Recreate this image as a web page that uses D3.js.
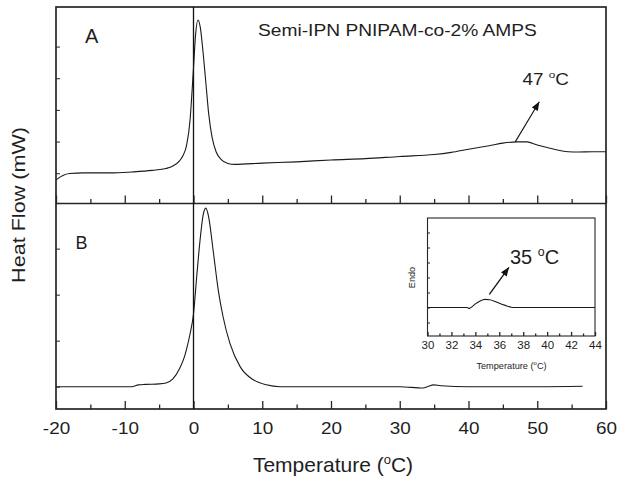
<!DOCTYPE html>
<html>
<head>
<meta charset="utf-8">
<script src="https://cdn.jsdelivr.net/npm/d3@7"></script>
<style>
body{margin:0;background:#fff;}
text{font-family:"Liberation Sans",Arial,Helvetica,sans-serif;fill:#1e1e1e;}
</style>
</head>
<body>
<svg id="chart" width="617" height="478"></svg>
<script>
// curve A (upper panel): temperature in °C, heat flow in arbitrary units
var tempA = [-20,-19,-18,-16,-12,-9,-6,-4,-3,-2,-1.5,-1,-0.5,-0.2,0,0.3,0.65,1.0,1.4,1.8,2.2,2.7,3.3,4,5,6,10,15,20,25,30,35,37.5,40,43,45,47,48.5,50,52,54.5,56,58,60];
var flowA = [-0.21,-0.07,-0.01,0.01,0.01,0.04,0.09,0.15,0.23,0.40,0.57,0.89,1.68,2.63,3.32,4.37,4.84,4.59,3.80,2.85,1.90,1.14,0.67,0.44,0.31,0.28,0.32,0.36,0.42,0.46,0.53,0.59,0.66,0.76,0.87,0.95,0.99,0.99,0.89,0.78,0.68,0.67,0.68,0.68];

// curve B (lower panel)
var tempB = [-20,-9,-8,-7,-5,-4,-3,-2,-1.3,-1,-0.5,0,0.5,1.0,1.4,1.8,2.2,2.9,3.6,4.3,5.3,6.8,8.7,10.6,12.6,20,30,33.4,34.2,34.9,36,40,50,56.6];
var flowB = [0,0,0.04,0.05,0.06,0.08,0.17,0.40,0.66,0.82,1.15,1.58,2.45,3.25,3.73,3.88,3.69,2.91,2.10,1.52,0.94,0.43,0.15,0.04,0,0,0,-0.03,0.01,0.04,0.02,0,0,0.01];

// inset, zoom on 30-44 °C
var tempInset = [30,33.3,33.5,33.7,34,34.4,34.8,35.2,35.6,36,36.5,37,37.2,44];
var flowInset = [0,0,-0.03,0.02,0.12,0.22,0.27,0.26,0.21,0.14,0.07,0.01,0,0];

var mainTicks = [-20,-10,0,10,20,30,40,50,60];
var mainMinor = [-15,-5,5,15,25,35,45,55];
var insetTicks = [30,32,34,36,38,40,42,44];
var insetMinor = [31,33,35,37,39,41,43];
var leftTicksA = [0,1,2,3,4];
var leftTicksB = [0,1,2,3];
var leftTicksInset = [-0.5,0,0.5,1,1.5,2,2.5];

// annotations (data units)
var arrowAFrom = [46.8,0.99], arrowATo = [50.3,2.26];
var arrowIFrom = [35.17,0.44], arrowITo = [36.81,1.34];

var svg = d3.select("#chart");
var ink = "#262626";

var x = d3.scaleLinear().domain([-20,60]).range([56,606]);
var yA = d3.scaleLinear().domain([-0.94,5.25]).range([203,7]);
var yB = d3.scaleLinear().domain([-0.485,3.97]).range([409,204]);
var xi = d3.scaleLinear().domain([30,44]).range([427.5,595]);
var yi = d3.scaleLinear().domain([-0.95,2.983]).range([336,218]);

var defs = svg.append("defs");
defs.append("marker").attr("id","head").attr("markerUnits","userSpaceOnUse")
	.attr("viewBox","0 0 10 8").attr("refX",10).attr("refY",4)
	.attr("markerWidth",10).attr("markerHeight",7).attr("orient","auto")
	.append("path").attr("d","M0,0L10,4L0,8Z").attr("fill","#111");

function ticksBottom(g, scale, major, minor, y, bigLen, smallLen, withLabels){
	var a = d3.axisBottom(scale).tickValues(major).tickSize(-bigLen).tickSizeOuter(0)
		.tickFormat(withLabels ? function(d){ return String(d); } : "");
	var ax = g.append("g").attr("transform","translate(0,"+y+")").attr("color",ink).call(a);
	ax.select(".domain").remove();
	ax.selectAll("line").attr("stroke-width",1.3);
	var b = d3.axisBottom(scale).tickValues(minor).tickSize(-smallLen).tickFormat("");
	var bx = g.append("g").attr("transform","translate(0,"+y+")").attr("color",ink).call(b);
	bx.select(".domain").remove();
	bx.selectAll("line").attr("stroke-width",1.3);
	return ax;
}

function ticksLeft(g, scale, vals, x0, len){
	var a = d3.axisLeft(scale).tickValues(vals).tickSize(-len).tickFormat("");
	var ax = g.append("g").attr("transform","translate("+x0+",0)").attr("color",ink).call(a);
	ax.select(".domain").remove();
	ax.selectAll("line").attr("stroke-width",1);
}

// text with raised small "o" for degree
function degText(g, px, py, num, size, sx, unit){
	var t = g.append("text").attr("transform","translate("+px+","+py+") scale("+sx+",1)")
		.style("font-size",size+"px");
	t.append("tspan").text(num+" ");
	t.append("tspan").attr("dy",-size*0.42).style("font-size",(size*0.62)+"px").text("o");
	t.append("tspan").attr("dy",size*0.42).text(unit);
	return t;
}

var main = svg.append("g");

// bottom axis with labels
var bottomAxis = ticksBottom(main, x, mainTicks, mainMinor, 409, 8, 4.5, true);
bottomAxis.selectAll("text").attr("y",0).attr("dy",0)
	.attr("transform","translate(0,25) scale(1.18,1)")
	.style("font-size","16px").attr("fill","#1e1e1e");
// ticks at the bottom of the upper panel
ticksBottom(main, x, mainTicks, mainMinor, 203.5, 8, 4.5, false);
ticksLeft(main, yA, leftTicksA, 56, 4);
ticksLeft(main, yB, leftTicksB, 56, 4);

var line = d3.line().curve(d3.curveMonotoneX);

main.append("path")
	.attr("d", line(tempA.map(function(t,i){ return [x(t), yA(flowA[i])]; })))
	.attr("fill","none").attr("stroke","#1a1a1a").attr("stroke-width",1.1);
main.append("path")
	.attr("d", line(tempB.map(function(t,i){ return [x(t), yB(flowB[i])]; })))
	.attr("fill","none").attr("stroke","#1a1a1a").attr("stroke-width",1.1);

// frame, divider and zero line
main.append("rect").attr("x",56).attr("y",7).attr("width",550).attr("height",402)
	.attr("fill","none").attr("stroke",ink).attr("stroke-width",1.7);
main.append("line").attr("x1",56).attr("x2",606).attr("y1",203.5).attr("y2",203.5)
	.attr("stroke",ink).attr("stroke-width",1.5);
main.append("line").attr("x1",x(0)).attr("x2",x(0)).attr("y1",7).attr("y2",409)
	.attr("stroke","#111").attr("stroke-width",1.3);

// arrow for curve A
main.append("line")
	.attr("x1",x(arrowAFrom[0])).attr("y1",yA(arrowAFrom[1]))
	.attr("x2",x(arrowATo[0])).attr("y2",yA(arrowATo[1]))
	.attr("stroke","#111").attr("stroke-width",1.1).attr("marker-end","url(#head)");
degText(main, 522.5, 85, "47", 16, 1.18, "C");

main.append("text").attr("x",85).attr("y",42.5).style("font-size","20px").text("A");
main.append("text").attr("x",75.5).attr("y",249).style("font-size","18px").text("B");
main.append("text").attr("transform","translate(258,36) scale(1.2,1)")
	.style("font-size","16px").text("Semi-IPN PNIPAM-co-2% AMPS");

// axis titles
var xt = main.append("text").attr("text-anchor","middle")
	.attr("transform","translate(333,472)").style("font-size","21px");
xt.append("tspan").text("Temperature (");
xt.append("tspan").attr("dy",-8).style("font-size","13px").text("o");
xt.append("tspan").attr("dy",8).text("C)");

main.append("text").attr("text-anchor","middle")
	.attr("transform","translate(25,205) rotate(-90) scale(1.2,1)")
	.style("font-size","18px").text("Heat Flow (mW)");

// inset
var inset = svg.append("g");
inset.append("rect").attr("x",427.5).attr("y",218).attr("width",167.5).attr("height",118)
	.attr("fill","#fff");
var insetAxis = ticksBottom(inset, xi, insetTicks, insetMinor, 336, 4, 2.5, true);
insetAxis.selectAll("text").attr("y",0).attr("dy",0)
	.attr("transform","translate(0,13)").style("font-size","11.5px").attr("fill","#1e1e1e");
ticksLeft(inset, yi, leftTicksInset, 427.5, 2.5);
inset.append("path")
	.attr("d", line(tempInset.map(function(t,i){ return [xi(t), yi(flowInset[i])]; })))
	.attr("fill","none").attr("stroke","#1a1a1a").attr("stroke-width",1.1);
inset.append("rect").attr("x",427.5).attr("y",218).attr("width",167.5).attr("height",118)
	.attr("fill","none").attr("stroke",ink).attr("stroke-width",1.1);
inset.append("line")
	.attr("x1",xi(arrowIFrom[0])).attr("y1",yi(arrowIFrom[1]))
	.attr("x2",xi(arrowITo[0])).attr("y2",yi(arrowITo[1]))
	.attr("stroke","#111").attr("stroke-width",1.3).attr("marker-end","url(#head)");
degText(inset, 510, 264, "35", 20, 1, "C");

var it = inset.append("text").attr("text-anchor","middle")
	.attr("transform","translate(511.5,368.5)").style("font-size","9.2px");
it.append("tspan").text("Temperature (");
it.append("tspan").attr("dy",-3.5).style("font-size","6px").text("o");
it.append("tspan").attr("dy",3.5).text("C)");
inset.append("text").attr("text-anchor","middle")
	.attr("transform","translate(415,277.5) rotate(-90)")
	.style("font-size","9.2px").text("Endo");
</script>
</body>
</html>
